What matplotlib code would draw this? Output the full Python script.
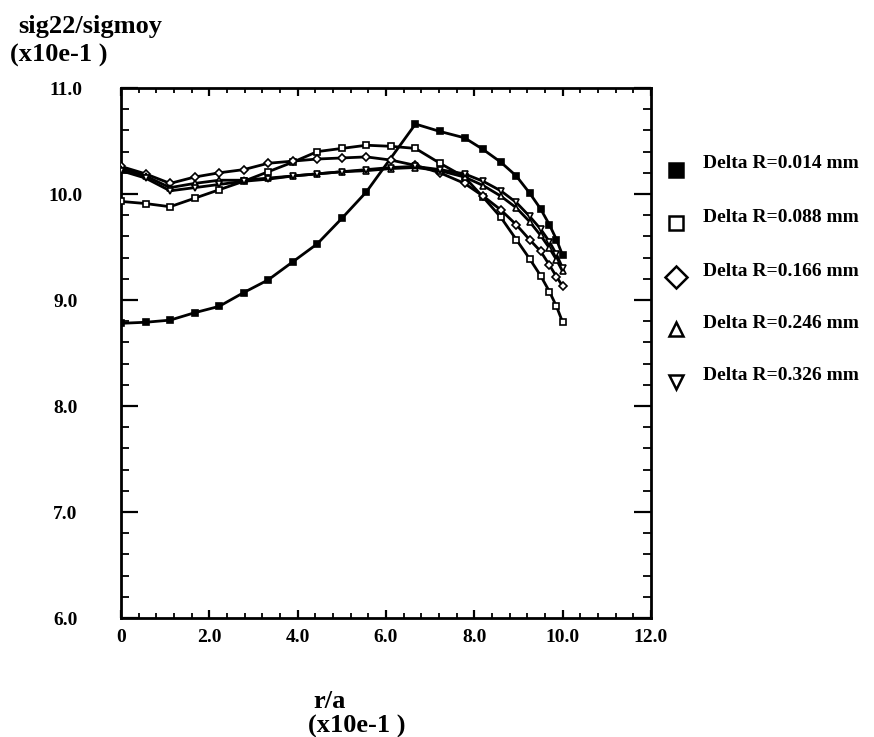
import matplotlib
matplotlib.use("Agg")
import matplotlib.pyplot as plt
from matplotlib.lines import Line2D
from matplotlib.ticker import MultipleLocator
import numpy as np

W, H, DPI = 874, 737, 100
FONT = ["Liberation Serif", "DejaVu Serif"]

plt.rcParams.update({
    "font.family": FONT,
    "font.weight": "bold",
})

# r/a (x10e-1) mesh
X_MESH = [0.0, 0.556, 1.111, 1.667, 2.222, 2.778, 3.333, 3.889, 4.444, 5.0,
          5.556, 6.111, 6.667, 7.222, 7.778, 8.2, 8.6, 8.95, 9.25, 9.5,
          9.7, 9.86, 10.0]
X_FILLED = [0.0, 0.556, 1.111, 1.667, 2.222, 2.778, 3.333, 3.889, 4.444, 5.0,
            5.556, 6.667, 7.222, 7.778, 8.2, 8.6, 8.95, 9.25, 9.5,
            9.7, 9.86, 10.0]

# sig22/sigmoy (x10e-1)
DR_014 = [8.78, 8.79, 8.81, 8.88, 8.94, 9.07, 9.19, 9.36, 9.53, 9.77,
          10.02, 10.66, 10.59, 10.53, 10.42, 10.30, 10.17, 10.01, 9.86,
          9.71, 9.57, 9.42]
DR_088 = [9.93, 9.91, 9.88, 9.96, 10.04, 10.12, 10.21, 10.30, 10.40, 10.43,
          10.46, 10.45, 10.43, 10.29, 10.16, 9.97, 9.78, 9.57, 9.39, 9.23,
          9.08, 8.94, 8.79]
DR_166 = [10.26, 10.19, 10.10, 10.16, 10.20, 10.23, 10.29, 10.31, 10.33, 10.34,
          10.35, 10.32, 10.27, 10.20, 10.10, 9.98, 9.85, 9.71, 9.57, 9.46,
          9.33, 9.22, 9.13]
DR_246 = [10.24, 10.17, 10.06, 10.10, 10.13, 10.13, 10.15, 10.17, 10.19, 10.21,
          10.22, 10.24, 10.25, 10.22, 10.16, 10.08, 9.98, 9.87, 9.74, 9.61,
          9.49, 9.38, 9.27]
DR_326 = [10.22, 10.15, 10.03, 10.06, 10.09, 10.12, 10.14, 10.17, 10.19, 10.21,
          10.23, 10.25, 10.26, 10.23, 10.19, 10.12, 10.03, 9.92, 9.79, 9.67,
          9.55, 9.43, 9.30]

LABELS = ["Delta R=0.014 mm", "Delta R=0.088 mm", "Delta R=0.166 mm",
          "Delta R=0.246 mm", "Delta R=0.326 mm"]

SERIES = [
    (X_FILLED, DR_014, "s", "black"),
    (X_MESH, DR_088, "s", "white"),
    (X_MESH, DR_166, "D", "white"),
    (X_MESH, DR_246, "^", "white"),
    (X_MESH, DR_326, "v", "white"),
]
LEGEND_MS = [9.5, 10, 11.5, 10, 10]


def px(x, y):
    return x / W, 1 - y / H


fig = plt.figure(figsize=(W / DPI, H / DPI), dpi=DPI, facecolor="white")
left, bottom = px(121, 618)
right, top = px(651, 88)
ax = fig.add_axes([left, bottom, right - left, top - bottom])

for xs, ys, mk, fc in SERIES:
    ax.plot(xs, ys, color="black", lw=2.0, marker=mk, ms=3.8,
            mfc=fc, mec="black", mew=1.2, zorder=3)

ax.set_xlim(0, 12)
ax.set_ylim(6, 11)
ax.xaxis.set_major_locator(MultipleLocator(2))
ax.xaxis.set_minor_locator(MultipleLocator(0.4))
ax.yaxis.set_major_locator(MultipleLocator(1))
ax.yaxis.set_minor_locator(MultipleLocator(0.2))
ax.set_xticklabels(["0" if v == 0 else f"{v:.1f}" for v in ax.get_xticks()])
ax.set_yticklabels([f"{v:.1f}" for v in ax.get_yticks()])

for s in ax.spines.values():
    s.set_linewidth(2.0)
ax.tick_params(axis="x", which="major", direction="in", length=6, width=1.6,
               top=True, labelsize=14, pad=8)
ax.tick_params(axis="x", which="minor", direction="in", length=3.5, width=1.3,
               top=True)
ax.tick_params(axis="y", which="major", direction="in", length=12, width=1.6,
               right=True, labelsize=14, pad=40)
ax.tick_params(axis="y", which="minor", direction="in", length=6, width=1.3,
               right=True)
for lab in ax.get_yticklabels():
    lab.set_horizontalalignment("center")
for lab in ax.get_xticklabels() + ax.get_yticklabels():
    lab.set_fontweight("bold")

# axis titles
fig.text(*px(18, 26), "sig22/sigmoy", fontsize=19, fontweight="bold",
         ha="left", va="center")
fig.text(*px(10, 55), "(x10e-1 )", fontsize=19, fontweight="bold",
         ha="left", va="center")
fig.text(*px(330, 701), "r/a", fontsize=19, fontweight="bold",
         ha="center", va="center")
fig.text(*px(357, 726), "(x10e-1 )", fontsize=19, fontweight="bold",
         ha="center", va="center")

# legend
row_y = [164, 217, 271, 323, 376]
for (xs, ys, mk, fc), lab, y, ms in zip(SERIES, LABELS, row_y, LEGEND_MS):
    fig.add_artist(Line2D([px(676, 0)[0]], [px(0, y + 6)[1]], marker=mk, ms=ms,
                          mfc=fc, mec="black", mew=1.8, ls="none",
                          transform=fig.transFigure))
    fig.text(*px(703, y), lab, fontsize=14, fontweight="bold",
             ha="left", va="center")

fig.savefig("out.png", dpi=DPI, facecolor="white")
